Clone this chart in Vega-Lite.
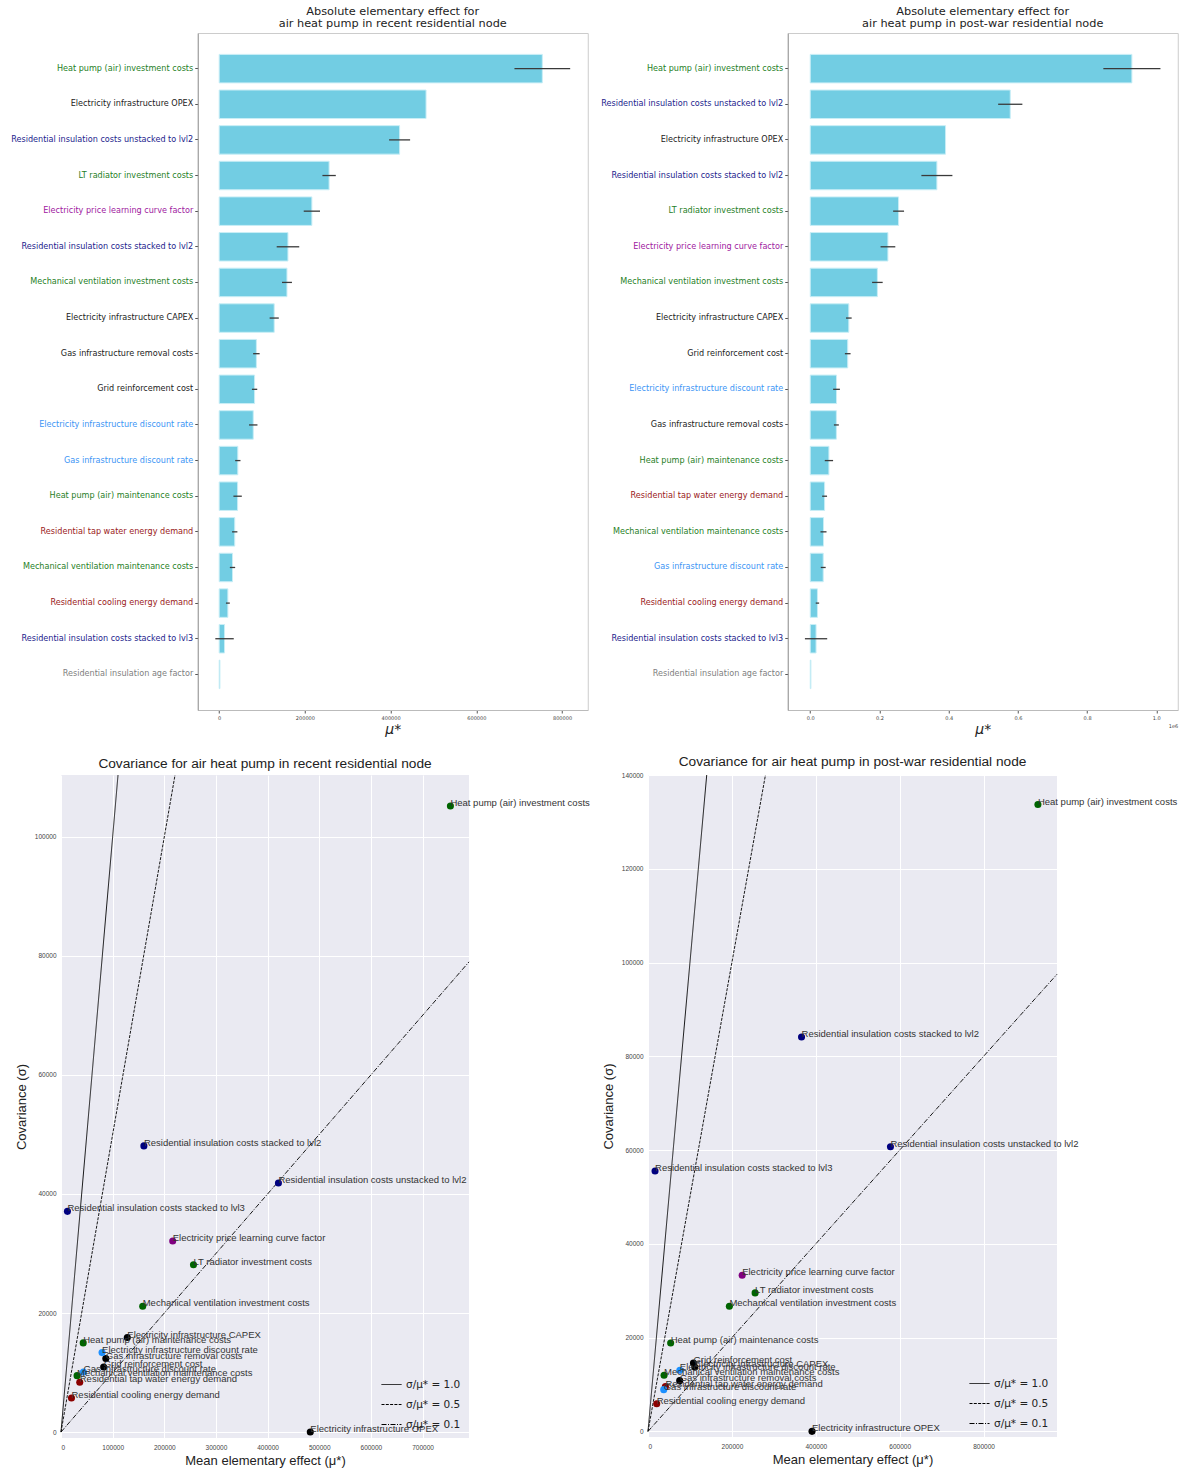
{
  "$schema": "https://vega.github.io/schema/vega-lite/v6.json",
  "background": "white",
  "padding": {"left": 10, "top": 5, "right": -135, "bottom": 5},
  "config": {"font": "DejaVu Sans"},
  "datasets": {
    "recent": [
      {"name": "Heat pump (air) investment costs", "group": "Technology", "mu": 754000, "ci": 65000, "sigma": 105200},
      {"name": "Electricity infrastructure OPEX", "group": "Infrastructure", "mu": 482700, "ci": 0, "sigma": 0},
      {"name": "Residential insulation costs unstacked to lvl2", "group": "Insulation", "mu": 421000, "ci": 24500, "sigma": 41850},
      {"name": "LT radiator investment costs", "group": "Technology", "mu": 256500, "ci": 15600, "sigma": 28100},
      {"name": "Electricity price learning curve factor", "group": "Price", "mu": 216300, "ci": 19000, "sigma": 32100},
      {"name": "Residential insulation costs stacked to lvl2", "group": "Insulation", "mu": 160500, "ci": 26300, "sigma": 48080},
      {"name": "Mechanical ventilation investment costs", "group": "Technology", "mu": 158200, "ci": 11600, "sigma": 21150},
      {"name": "Electricity infrastructure CAPEX", "group": "Infrastructure", "mu": 128400, "ci": 10700, "sigma": 15880},
      {"name": "Gas infrastructure removal costs", "group": "Infrastructure", "mu": 86800, "ci": 7600, "sigma": 12340},
      {"name": "Grid reinforcement cost", "group": "Infrastructure", "mu": 82600, "ci": 6200, "sigma": 10940},
      {"name": "Electricity infrastructure discount rate", "group": "Discount rate", "mu": 79500, "ci": 9800, "sigma": 13350},
      {"name": "Gas infrastructure discount rate", "group": "Discount rate", "mu": 43500, "ci": 6200, "sigma": 10100},
      {"name": "Heat pump (air) maintenance costs", "group": "Technology", "mu": 43000, "ci": 9800, "sigma": 14980},
      {"name": "Residential tap water energy demand", "group": "Demand", "mu": 36300, "ci": 6200, "sigma": 8360},
      {"name": "Mechanical ventilation maintenance costs", "group": "Technology", "mu": 31100, "ci": 6200, "sigma": 9480},
      {"name": "Residential cooling energy demand", "group": "Demand", "mu": 20300, "ci": 4500, "sigma": 5720},
      {"name": "Residential insulation costs stacked to lvl3", "group": "Insulation", "mu": 12500, "ci": 21500, "sigma": 37080},
      {"name": "Residential insulation age factor", "group": "Other", "mu": 1800, "ci": 0, "sigma": 0}
    ],
    "postwar": [
      {"name": "Heat pump (air) investment costs", "group": "Technology", "mu": 929500, "ci": 82500, "sigma": 133700},
      {"name": "Residential insulation costs unstacked to lvl2", "group": "Insulation", "mu": 578000, "ci": 35000, "sigma": 60700},
      {"name": "Electricity infrastructure OPEX", "group": "Infrastructure", "mu": 391000, "ci": 0, "sigma": 0},
      {"name": "Residential insulation costs stacked to lvl2", "group": "Insulation", "mu": 366000, "ci": 44800, "sigma": 84130},
      {"name": "LT radiator investment costs", "group": "Technology", "mu": 255300, "ci": 15800, "sigma": 29540},
      {"name": "Electricity price learning curve factor", "group": "Price", "mu": 224500, "ci": 21300, "sigma": 33310},
      {"name": "Mechanical ventilation investment costs", "group": "Technology", "mu": 194000, "ci": 15300, "sigma": 26690},
      {"name": "Electricity infrastructure CAPEX", "group": "Infrastructure", "mu": 111500, "ci": 8200, "sigma": 13740},
      {"name": "Grid reinforcement cost", "group": "Infrastructure", "mu": 108300, "ci": 8200, "sigma": 14590},
      {"name": "Electricity infrastructure discount rate", "group": "Discount rate", "mu": 75900, "ci": 9800, "sigma": 13020},
      {"name": "Gas infrastructure removal costs", "group": "Infrastructure", "mu": 75500, "ci": 7100, "sigma": 10820},
      {"name": "Heat pump (air) maintenance costs", "group": "Technology", "mu": 54000, "ci": 12000, "sigma": 18860},
      {"name": "Residential tap water energy demand", "group": "Demand", "mu": 41500, "ci": 7100, "sigma": 9540},
      {"name": "Mechanical ventilation maintenance costs", "group": "Technology", "mu": 38300, "ci": 8700, "sigma": 11960},
      {"name": "Gas infrastructure discount rate", "group": "Discount rate", "mu": 37500, "ci": 7100, "sigma": 8900},
      {"name": "Residential cooling energy demand", "group": "Demand", "mu": 20800, "ci": 4900, "sigma": 5910},
      {"name": "Residential insulation costs stacked to lvl3", "group": "Insulation", "mu": 16800, "ci": 32200, "sigma": 55520},
      {"name": "Residential insulation age factor", "group": "Other", "mu": 2000, "ci": 0, "sigma": 0}
    ],
    "lines_recent": [
      {"ratio": "1.0", "mu": 0, "sigma": 0},
      {"ratio": "1.0", "mu": 110400, "sigma": 110400},
      {"ratio": "0.5", "mu": 0, "sigma": 0},
      {"ratio": "0.5", "mu": 220800, "sigma": 110400},
      {"ratio": "0.1", "mu": 0, "sigma": 0},
      {"ratio": "0.1", "mu": 790000, "sigma": 79000}
    ],
    "lines_postwar": [
      {"ratio": "1.0", "mu": 0, "sigma": 0},
      {"ratio": "1.0", "mu": 140000, "sigma": 140000},
      {"ratio": "0.5", "mu": 0, "sigma": 0},
      {"ratio": "0.5", "mu": 280000, "sigma": 140000},
      {"ratio": "0.1", "mu": 0, "sigma": 0},
      {"ratio": "0.1", "mu": 975000, "sigma": 97500}
    ],
    "spacer": [{"k": 1}]
  },
  "center": true,
  "spacing": 18,
  "resolve": {"scale": {"strokeDash": "independent", "color": "independent"}, "legend": {"strokeDash": "independent"}},
  "vconcat": [
    {
      "spacing": 11,
      "hconcat": [
        {
          "width": 390,
          "height": 677,
          "view": {"stroke": "#cccccc", "fill": "white"},
          "title": {"text": ["Absolute elementary effect for", "air heat pump in recent residential node"], "font": "DejaVu Sans", "fontSize": 11.3, "lineHeight": 12, "fontWeight": "normal", "color": "#222222", "offset": 4},
          "data": {"name": "recent"},
          "encoding": {
            "y": {
              "field": "name", "type": "nominal",
              "sort": {"field": "mu", "op": "max", "order": "descending"},
              "scale": {"paddingInner": 0.2, "paddingOuter": 0.6},
              "axis": {
                "title": null, "labelFont": "DejaVu Sans", "labelFontSize": 8.1, "labelLimit": 400, "labelPadding": 2,
                "tickSize": 3, "tickColor": "#555555", "domainColor": "#999999",
                "labelColor": {
                  "condition": [
                    {"test": "indexof(['Heat pump (air) investment costs','LT radiator investment costs','Mechanical ventilation investment costs','Heat pump (air) maintenance costs','Mechanical ventilation maintenance costs'], datum.value) >= 0", "value": "#1f801f"},
                    {"test": "indexof(['Residential insulation costs unstacked to lvl2','Residential insulation costs stacked to lvl2','Residential insulation costs stacked to lvl3'], datum.value) >= 0", "value": "#1c1c8c"},
                    {"test": "datum.value == 'Electricity price learning curve factor'", "value": "#a020a0"},
                    {"test": "indexof(['Electricity infrastructure discount rate','Gas infrastructure discount rate'], datum.value) >= 0", "value": "#3d95f5"},
                    {"test": "indexof(['Residential tap water energy demand','Residential cooling energy demand'], datum.value) >= 0", "value": "#9a1a1a"},
                    {"test": "datum.value == 'Residential insulation age factor'", "value": "#808080"}
                  ],
                  "value": "#222222"
                }
              }
            }
          },
          "layer": [
            {
              "mark": {"type": "bar", "color": "#72cde3", "stroke": "#c9eef6", "strokeWidth": 1},
              "encoding": {
                "x": {
                  "field": "mu", "type": "quantitative", "title": "μ*",
                  "scale": {"domain": [-50000, 860000], "nice": false, "zero": false},
                  "axis": {"values": [0, 200000, 400000, 600000, 800000], "format": "d", "grid": false, "labelFontSize": 5, "labelColor": "#444444", "tickSize": 3, "tickColor": "#555555", "domainColor": "#bbbbbb", "titleFont": "DejaVu Sans", "titleFontSize": 14, "titleFontStyle": "italic", "titleFontWeight": "normal", "titleColor": "#222222", "titlePadding": 2}
                }
              }
            },
            {
              "mark": {"type": "errorbar", "color": "#3a3a3a", "thickness": 1.3},
              "encoding": {
                "x": {"field": "mu", "type": "quantitative", "title": "μ*"},
                "xError": {"field": "ci"}
              }
            }
          ]
        },
        {
          "width": 390,
          "height": 677,
          "view": {"stroke": "#cccccc", "fill": "white"},
          "title": {"text": ["Absolute elementary effect for", "air heat pump in post-war residential node"], "font": "DejaVu Sans", "fontSize": 11.3, "lineHeight": 12, "fontWeight": "normal", "color": "#222222", "offset": 4},
          "data": {"name": "postwar"},
          "resolve": {"axis": {"x": "independent"}},
          "encoding": {
            "y": {
              "field": "name", "type": "nominal",
              "sort": {"field": "mu", "op": "max", "order": "descending"},
              "scale": {"paddingInner": 0.2, "paddingOuter": 0.6},
              "axis": {
                "title": null, "labelFont": "DejaVu Sans", "labelFontSize": 8.1, "labelLimit": 400, "labelPadding": 2,
                "tickSize": 3, "tickColor": "#555555", "domainColor": "#999999",
                "labelColor": {
                  "condition": [
                    {"test": "indexof(['Heat pump (air) investment costs','LT radiator investment costs','Mechanical ventilation investment costs','Heat pump (air) maintenance costs','Mechanical ventilation maintenance costs'], datum.value) >= 0", "value": "#1f801f"},
                    {"test": "indexof(['Residential insulation costs unstacked to lvl2','Residential insulation costs stacked to lvl2','Residential insulation costs stacked to lvl3'], datum.value) >= 0", "value": "#1c1c8c"},
                    {"test": "datum.value == 'Electricity price learning curve factor'", "value": "#a020a0"},
                    {"test": "indexof(['Electricity infrastructure discount rate','Gas infrastructure discount rate'], datum.value) >= 0", "value": "#3d95f5"},
                    {"test": "indexof(['Residential tap water energy demand','Residential cooling energy demand'], datum.value) >= 0", "value": "#9a1a1a"},
                    {"test": "datum.value == 'Residential insulation age factor'", "value": "#808080"}
                  ],
                  "value": "#222222"
                }
              }
            }
          },
          "layer": [
            {
              "mark": {"type": "bar", "color": "#72cde3", "stroke": "#c9eef6", "strokeWidth": 1},
              "encoding": {
                "x": {
                  "field": "mu", "type": "quantitative", "title": "μ*",
                  "scale": {"domain": [-65000, 1062000], "nice": false, "zero": false},
                  "axis": {"orient": "bottom", "values": [0, 200000, 400000, 600000, 800000, 1000000], "labelExpr": "format(datum.value / 1000000, '.1f')", "grid": false, "labelFontSize": 5, "labelColor": "#444444", "tickSize": 3, "tickColor": "#555555", "domainColor": "#bbbbbb", "titleFont": "DejaVu Sans", "titleFontSize": 14, "titleFontStyle": "italic", "titleFontWeight": "normal", "titleColor": "#222222", "titlePadding": 2}
                }
              }
            },
            {
              "mark": {"type": "errorbar", "color": "#3a3a3a", "thickness": 1.3},
              "encoding": {
                "x": {"field": "mu", "type": "quantitative", "axis": null},
                "xError": {"field": "ci"}
              }
            },
            {
              "mark": {"type": "point", "opacity": 0},
              "encoding": {
                "x": {"field": "mu", "type": "quantitative", "axis": {"orient": "bottom", "domain": false, "ticks": false, "labels": false, "grid": false, "title": "1e6", "titleAnchor": "end", "titleAlign": "right", "titleFontSize": 5, "titleFontWeight": "normal", "titleColor": "#444444", "titleY": 13}}
              }
            }
          ]
        }
      ]
    },
    {
      "spacing": 12,
      "resolve": {"scale": {"strokeDash": "independent", "color": "independent"}, "legend": {"strokeDash": "independent"}},
      "hconcat": [
        {
          "width": 408,
          "height": 663,
          "view": {"fill": "#eaeaf2", "stroke": null},
          "title": {"text": "Covariance for air heat pump in recent residential node", "font": "Liberation Sans", "fontSize": 13.7, "fontWeight": "normal", "color": "#222222", "offset": 3},
          "layer": [
            {
              "data": {"name": "lines_recent"},
              "mark": {"type": "line", "color": "black", "strokeWidth": 0.9},
              "encoding": {
                "x": {"field": "mu", "type": "quantitative", "scale": {"domain": [0, 790000], "nice": false, "zero": false},
                  "axis": {"values": [0, 100000, 200000, 300000, 400000, 500000, 600000, 700000], "format": "d", "domain": false, "ticks": false, "gridColor": "white", "gridWidth": 1, "labelFont": "Liberation Sans", "labelFontSize": 6.5, "labelColor": "#444444", "labelPadding": 6, "title": "Mean elementary effect (μ*)", "titleFont": "Liberation Sans", "titleFontSize": 13, "titleFontWeight": "normal", "titleColor": "#222222", "titlePadding": 4}},
                "y": {"field": "sigma", "type": "quantitative", "scale": {"domain": [-1000, 110400], "nice": false, "zero": false},
                  "axis": {"values": [0, 20000, 40000, 60000, 80000, 100000], "format": "d", "domain": false, "ticks": false, "gridColor": "white", "gridWidth": 1, "labelFont": "Liberation Sans", "labelFontSize": 6.5, "labelColor": "#444444", "labelPadding": 5, "title": "Covariance (σ)", "titleFont": "Liberation Sans", "titleFontSize": 13, "titleFontWeight": "normal", "titleColor": "#222222", "titlePadding": 6}},
                "strokeDash": {"field": "ratio", "type": "nominal",
                  "scale": {"domain": ["1.0", "0.5", "0.1"], "range": [[1, 0], [3, 1.3], [5, 1.5, 1, 1.5]]},
                  "legend": {"orient": "bottom-right", "title": null, "symbolType": "stroke", "symbolSize": 400, "symbolStrokeColor": "black", "symbolStrokeWidth": 1, "labelExpr": "'σ/μ* = ' + datum.label", "labelFont": "DejaVu Sans", "labelFontSize": 10.5, "labelColor": "#222222", "rowPadding": 4, "offset": 8}}
              }
            },
            {
              "data": {"name": "recent"},
              "transform": [{"filter": "datum.group != 'Other'"}],
              "mark": {"type": "circle", "size": 50, "opacity": 1},
              "encoding": {
                "x": {"field": "mu", "type": "quantitative"},
                "y": {"field": "sigma", "type": "quantitative"},
                "color": {"field": "group", "type": "nominal", "legend": null,
                  "scale": {"domain": ["Technology", "Infrastructure", "Insulation", "Price", "Discount rate", "Demand", "Other"], "range": ["#006400", "#000000", "#00007f", "#800080", "#1e90ff", "#8b0000", "#808080"]}}
              }
            },
            {
              "data": {"name": "recent"},
              "transform": [{"filter": "datum.group != 'Other'"}],
              "mark": {"type": "text", "align": "left", "baseline": "middle", "dy": -3, "font": "Liberation Sans", "fontSize": 9.5, "color": "#333333"},
              "encoding": {
                "x": {"field": "mu", "type": "quantitative"},
                "y": {"field": "sigma", "type": "quantitative"},
                "text": {"field": "name"}
              }
            }
          ]
        },
        {
          "width": 409,
          "height": 662,
          "view": {"fill": "#eaeaf2", "stroke": null},
          "title": {"text": "Covariance for air heat pump in post-war residential node", "font": "Liberation Sans", "fontSize": 13.7, "fontWeight": "normal", "color": "#222222", "offset": 3},
          "layer": [
            {
              "data": {"name": "lines_postwar"},
              "mark": {"type": "line", "color": "black", "strokeWidth": 0.9},
              "encoding": {
                "x": {"field": "mu", "type": "quantitative", "scale": {"domain": [0, 975000], "nice": false, "zero": false},
                  "axis": {"values": [0, 200000, 400000, 600000, 800000], "format": "d", "domain": false, "ticks": false, "gridColor": "white", "gridWidth": 1, "labelFont": "Liberation Sans", "labelFontSize": 6.5, "labelColor": "#444444", "labelPadding": 6, "title": "Mean elementary effect (μ*)", "titleFont": "Liberation Sans", "titleFontSize": 13, "titleFontWeight": "normal", "titleColor": "#222222", "titlePadding": 4}},
                "y": {"field": "sigma", "type": "quantitative", "scale": {"domain": [-1200, 140000], "nice": false, "zero": false},
                  "axis": {"values": [0, 20000, 40000, 60000, 80000, 100000, 120000, 140000], "format": "d", "domain": false, "ticks": false, "gridColor": "white", "gridWidth": 1, "labelFont": "Liberation Sans", "labelFontSize": 6.5, "labelColor": "#444444", "labelPadding": 5, "title": "Covariance (σ)", "titleFont": "Liberation Sans", "titleFontSize": 13, "titleFontWeight": "normal", "titleColor": "#222222", "titlePadding": 6}},
                "strokeDash": {"field": "ratio", "type": "nominal",
                  "scale": {"domain": ["1.0", "0.5", "0.1"], "range": [[1, 0], [3, 1.3], [5, 1.5, 1, 1.5]]},
                  "legend": {"orient": "bottom-right", "title": null, "symbolType": "stroke", "symbolSize": 400, "symbolStrokeColor": "black", "symbolStrokeWidth": 1, "labelExpr": "'σ/μ* = ' + datum.label", "labelFont": "DejaVu Sans", "labelFontSize": 10.5, "labelColor": "#222222", "rowPadding": 4, "offset": 8}}
              }
            },
            {
              "data": {"name": "postwar"},
              "transform": [{"filter": "datum.group != 'Other'"}],
              "mark": {"type": "circle", "size": 50, "opacity": 1},
              "encoding": {
                "x": {"field": "mu", "type": "quantitative"},
                "y": {"field": "sigma", "type": "quantitative"},
                "color": {"field": "group", "type": "nominal", "legend": null,
                  "scale": {"domain": ["Technology", "Infrastructure", "Insulation", "Price", "Discount rate", "Demand", "Other"], "range": ["#006400", "#000000", "#00007f", "#800080", "#1e90ff", "#8b0000", "#808080"]}}
              }
            },
            {
              "data": {"name": "postwar"},
              "transform": [{"filter": "datum.group != 'Other'"}],
              "mark": {"type": "text", "align": "left", "baseline": "middle", "dy": -3, "font": "Liberation Sans", "fontSize": 9.5, "color": "#333333"},
              "encoding": {
                "x": {"field": "mu", "type": "quantitative"},
                "y": {"field": "sigma", "type": "quantitative"},
                "text": {"field": "name"}
              }
            }
          ]
        },
        {
          "width": 125,
          "height": 10,
          "view": {"fill": "white", "stroke": null},
          "data": {"name": "spacer"},
          "mark": {"type": "point", "opacity": 0},
          "encoding": {}
        }
      ]
    }
  ]
}
